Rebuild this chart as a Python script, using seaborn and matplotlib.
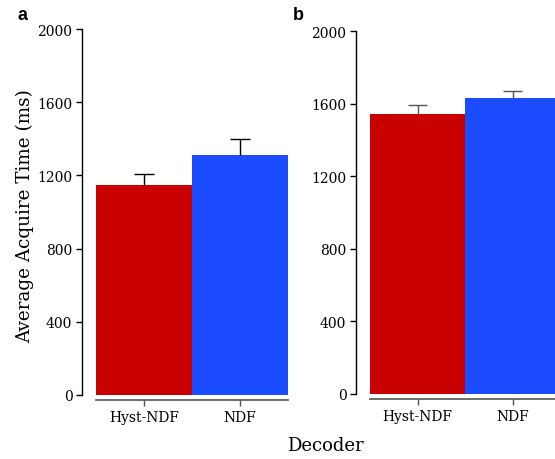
import matplotlib
matplotlib.use("Agg")
import matplotlib.pyplot as plt
import pandas as pd
import seaborn as sns

decoders = ["Hyst-NDF", "NDF"]
time_a = [1150, 1310]
err_a = [57, 87]
time_b = [1545, 1630]
err_b = [46, 42]
yticks = [0, 400, 800, 1200, 1600, 2000]
colors = ["#c80000", "#1c4cff"]

sns.set_style("ticks")
plt.rcParams["font.family"] = ["DejaVu Serif"]
plt.rcParams["text.color"] = "black"
plt.rcParams["axes.labelcolor"] = "black"
plt.rcParams["xtick.color"] = "black"
plt.rcParams["ytick.color"] = "black"

fig = plt.figure(figsize=(5.55, 4.6), dpi=100)
ax_a = fig.add_axes([96 / 555, 64 / 460, 192 / 555, 366 / 460])
ax_b = fig.add_axes([370 / 555, 65 / 460, 190 / 555, 363 / 460])


def draw_panel(ax, values, errs, err_color):
    df = pd.DataFrame({"Decoder": decoders, "Time": values})
    sns.barplot(data=df, x="Decoder", y="Time", hue="Decoder", palette=colors,
                width=1.0, legend=False, ax=ax, errorbar=None, saturation=1,
                linewidth=0, edgecolor="none")
    # upper-only error bars
    for i, (v, e) in enumerate(zip(values, errs)):
        ax.vlines(i, v, v + e, color=err_color, linewidth=1)
        ax.hlines(v + e, i - 0.1, i + 0.1, color=err_color, linewidth=1)
    ax.set_xlim(-0.5, 1.5)
    ax.set_ylim(0, 2000)
    ax.set_yticks(yticks)
    ax.set_yticklabels([str(t) for t in yticks], fontsize=9.5)
    ax.set_xticks([0, 1])
    ax.set_xticklabels(decoders, fontsize=12)
    ax.set_xlabel("")
    ax.set_ylabel("")
    for s in ["top", "right"]:
        ax.spines[s].set_visible(False)
    ax.spines["left"].set_position(("outward", 10))
    ax.spines["left"].set_bounds(0, 2000)
    ax.spines["left"].set_color("black")
    ax.spines["left"].set_linewidth(1)
    ax.spines["bottom"].set_position(("outward", 3.5))
    ax.spines["bottom"].set_color("#555555")
    ax.spines["bottom"].set_linewidth(1.2)
    ax.tick_params(axis="y", direction="out", length=4, width=1, color="black", pad=3)
    ax.tick_params(axis="x", direction="out", length=4, width=1, color="#555555", pad=3)


draw_panel(ax_a, time_a, err_a, "black")
draw_panel(ax_b, time_b, err_b, "#555555")

fig.text(24.5 / 555, 1 - 216 / 460, "Average Acquire Time (ms)", fontsize=13.2,
         rotation=90, ha="center", va="center")
fig.text(325 / 555, 1 - 446 / 460, "Decoder", fontsize=13, ha="center", va="center")
fig.text(22 / 555, 1 - 15 / 460, "a", fontsize=13, fontweight="bold",
         family="Liberation Sans", ha="center", va="center")
fig.text(298 / 555, 1 - 15 / 460, "b", fontsize=13, fontweight="bold",
         family="Liberation Sans", ha="center", va="center")

fig.savefig("out.png", dpi=100)
